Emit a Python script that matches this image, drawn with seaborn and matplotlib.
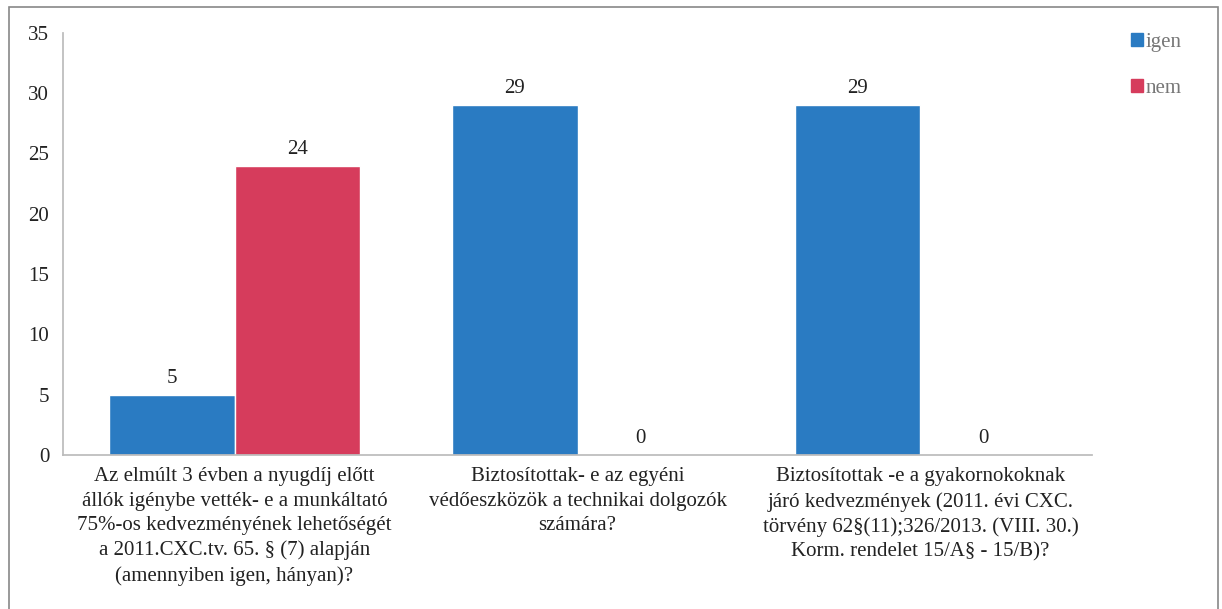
import matplotlib
matplotlib.use("Agg")
import matplotlib.pyplot as plt
import matplotlib.patches as mpatches
import seaborn as sns
import pandas as pd

# Data
categories = [
    "Az elmúlt 3 évben a nyugdíj előtt\nállók igénybe vették- e a munkáltató\n75%-os kedvezményének lehetőségét\na 2011.CXC.tv. 65. § (7) alapján\n(amennyiben igen, hányan)?",
    "Biztosítottak- e az egyéni\nvédőeszközök a technikai dolgozók\nszámára?",
    "Biztosítottak -e a gyakornokoknak\njáró kedvezmények (2011. évi CXC.\ntörvény 62§(11);326/2013. (VIII. 30.)\nKorm. rendelet 15/A§ - 15/B)?",
]
igen = [5, 29, 29]
nem = [24, 0, 0]
series = ["igen", "nem"]
colors = ["#2a7bc2", "#d63c5c"]

df = pd.DataFrame({
    "cat": categories * 2,
    "val": igen + nem,
    "series": ["igen"] * 3 + ["nem"] * 3,
})

sns.set_theme(style="white")
plt.rcParams["font.family"] = ["Liberation Serif", "DejaVu Serif"]

fig = plt.figure(figsize=(12.22, 6.09), dpi=100)
ax = fig.add_axes([0.0516, 0.253, 0.842, 0.693])

sns.barplot(data=df, x="cat", y="val", hue="series", palette=colors,
            width=0.73, ax=ax, legend=False, saturation=1)

for cont in ax.containers:
    ax.bar_label(cont, fmt="%d", padding=5, fontsize=15, color="#222222")

ax.set_ylim(0, 35)
ax.set_yticks(range(0, 36, 5))
ax.set_xlabel("")
ax.set_ylabel("")
ax.tick_params(axis="y", labelsize=15, pad=10, length=0, colors="#222222")
ax.tick_params(axis="x", labelsize=15, pad=9, length=0, colors="#222222")
for lab in ax.get_xticklabels():
    lab.set_linespacing(1.38)
for s in ["top", "right"]:
    ax.spines[s].set_visible(False)
ax.spines["left"].set_color("#bbbbbb")
ax.spines["bottom"].set_color("#bbbbbb")

handles = [mpatches.Patch(color=c, label=s) for c, s in zip(colors, series)]
fig.legend(handles=handles, loc="upper left", bbox_to_anchor=(0.91, 0.977),
           frameon=False, fontsize=15, handlelength=0.6, handleheight=0.6,
           handletextpad=0.1, labelspacing=1.3, labelcolor="#777777")

# outer frame
fig.patches.append(mpatches.Rectangle((0.007, -0.01), 0.99, 0.999, transform=fig.transFigure,
                                      fill=False, edgecolor="#888888", linewidth=1.2))

fig.savefig("out.png", dpi=100)
